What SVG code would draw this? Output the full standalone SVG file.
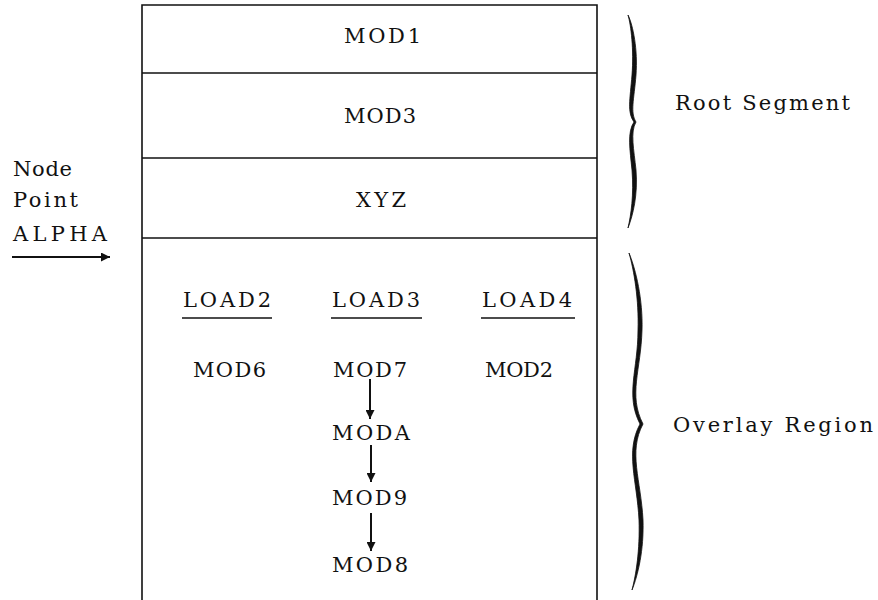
<svg xmlns="http://www.w3.org/2000/svg" width="878" height="600" viewBox="0 0 878 600">
<style>
text{font-family:"DejaVu Serif","Liberation Serif",serif;font-size:21px;fill:#111}
.ln{stroke:#111;stroke-width:1.6;fill:none}
.ar{stroke:#111;stroke-width:2;fill:none}
.ul{stroke:#111;stroke-width:1.3}
.br{fill:#111;stroke:#111;stroke-width:0.8}
</style>
<defs>
<marker id="ah" viewBox="0 0 10 10" refX="10" refY="5" markerWidth="16" markerHeight="9" markerUnits="userSpaceOnUse" orient="auto">
<path d="M0,0 L10,5 L0,10 Z" fill="#111"/>
</marker>
</defs>
<g id="frame">
<path class="ln" d="M142,600 V5 H597 V600"/>
</g>
<g id="mod1"><line class="ln" x1="142" y1="73" x2="597" y2="73"/><text x="344" y="43" textLength="77" lengthAdjust="spacing">MOD1</text></g>
<g id="mod3"><line class="ln" x1="142" y1="158" x2="597" y2="158"/><text x="344" y="123" textLength="72" lengthAdjust="spacing">MOD3</text></g>
<g id="xyz"><line class="ln" x1="142" y1="238" x2="597" y2="238"/><text x="356" y="207" textLength="50" lengthAdjust="spacing">XYZ</text></g>
<g id="load2"><text x="183" y="307" textLength="88" lengthAdjust="spacing">LOAD2</text><line class="ul" x1="182" y1="318" x2="272" y2="318"/></g>
<g id="load3"><text x="332" y="307" textLength="88" lengthAdjust="spacing">LOAD3</text><line class="ul" x1="331" y1="318" x2="422" y2="318"/></g>
<g id="load4"><text x="482" y="307" textLength="90" lengthAdjust="spacing">LOAD4</text><line class="ul" x1="481" y1="318" x2="575" y2="318"/></g>
<g id="mod6"><text x="193" y="377" textLength="73" lengthAdjust="spacing">MOD6</text></g>
<g id="mod7"><text x="333" y="377" textLength="74" lengthAdjust="spacing">MOD7</text></g>
<g id="mod2"><text x="485" y="377" textLength="68" lengthAdjust="spacing">MOD2</text></g>
<g id="moda"><text x="332" y="440" textLength="78" lengthAdjust="spacing">MODA</text></g>
<g id="mod9"><text x="332" y="505" textLength="75" lengthAdjust="spacing">MOD9</text></g>
<g id="mod8"><text x="332" y="572" textLength="76" lengthAdjust="spacing">MOD8</text></g>
<g id="nodepoint">
<text x="13" y="176" textLength="59" lengthAdjust="spacing">Node</text>
<text x="13" y="207" textLength="65" lengthAdjust="spacing">Point</text>
<text x="13" y="241" textLength="94" lengthAdjust="spacing">ALPHA</text>
</g>
<g id="connectors">
<line class="ar" x1="12" y1="257" x2="110" y2="257" marker-end="url(#ah)"/>
<line class="ar" x1="370" y1="379" x2="370" y2="419" marker-end="url(#ah)"/>
<line class="ar" x1="371" y1="445" x2="371" y2="482" marker-end="url(#ah)"/>
<line class="ar" x1="371" y1="513" x2="371" y2="551" marker-end="url(#ah)"/>
</g>
<g id="root-segment">
<path class="br" d="M628,15 C633,25 638,50 636,75 C634,100 630,112 636,122 C630,132 634,150 636,170 C638,195 633,215 628,228 C631,215 634,195 632,170 C630,150 627,132 634,122 C627,112 630,100 632,75 C634,50 631,25 628,15 Z"/>
<text x="675" y="110" textLength="175" lengthAdjust="spacing">Root Segment</text>
</g>
<g id="overlay-region">
<path class="br" d="M629,253 C636,270 643,300 642,330 C641,370 628,395 643,424 C628,452 641,480 643,520 C644,550 638,575 632,590 C636,575 640,550 639,520 C637,480 625,452 640,424 C625,395 638,370 638,330 C639,300 634,270 629,253 Z"/>
<text x="673" y="432" textLength="200" lengthAdjust="spacing">Overlay Region</text>
</g>
</svg>
